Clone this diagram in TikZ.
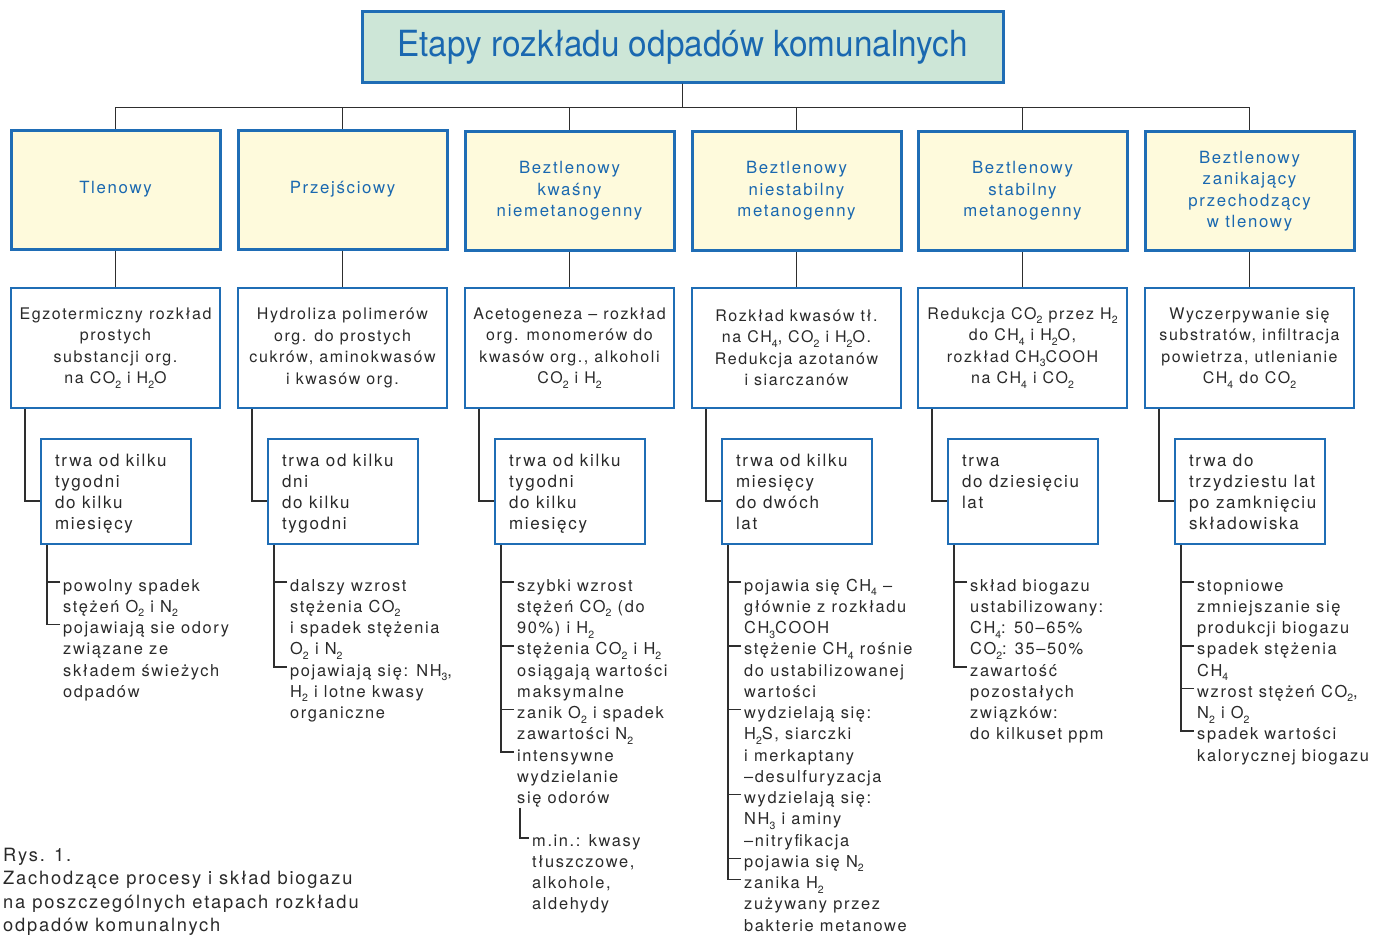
\documentclass[tikz,border=0pt]{standalone}
\usepackage{fontspec}
\setmainfont{TeX Gyre Heros}[LetterSpace=10.0]
\newfontfamily\titlefont{TeX Gyre Heros}[FakeStretch=0.925]
\usetikzlibrary{calc}
\definecolor{bblue}{HTML}{1F6DB5}
\definecolor{tblue}{HTML}{1A68B0}
\definecolor{tgreen}{HTML}{CDE6D7}
\definecolor{tyellow}{HTML}{FEFADC}
\definecolor{ink}{HTML}{2A2A2A}
\definecolor{lin}{HTML}{2E2E2E}
\newcommand\su[1]{\raisebox{-4.5pt}{\fontsize{10.5}{10.5}\selectfont #1}}
\newcommand\fs{\rule{0pt}{15pt}}
\newcommand\durtxt[1]{\parbox[c][105pt][t]{150pt}{\raggedright\leftskip=14pt\relax\rule{0pt}{27pt}#1}}
\begin{document}
\begin{tikzpicture}[x=1pt,y=-1pt,
 titlebox/.style={draw=bblue, line width=3pt, fill=tgreen, minimum width=641pt, minimum height=70pt, inner sep=0pt, text=tblue, font=\titlefont\fontsize{36}{40}\selectfont},
 phase/.style={draw=bblue, line width=3pt, fill=tyellow, minimum width=209pt, minimum height=119pt, inner sep=0pt, align=center, text=tblue, font=\fontsize{16.8}{21.5}\selectfont},
 proc/.style={draw=bblue, line width=1.6pt, fill=white, minimum width=209pt, minimum height=120pt, inner sep=0pt, align=center, text=ink, font=\fontsize{16}{21.5}\selectfont},
 dur/.style={draw=bblue, line width=1.6pt, fill=white, inner sep=0pt, text=ink, font=\fontsize{17}{21.25}\selectfont},
 item/.style={anchor=north west, inner xsep=3pt, inner ysep=0pt, align=left, text=ink, font=\fontsize{16.4}{21.25}\selectfont},
 conn/.style={draw=lin, line width=1.5pt},
]
\useasboundingbox (0,0) rectangle (1378,934);
\fill[white] (0,0) rectangle (1378,934);

% title
\node[titlebox] (title) at (682.5,47) {Etapy rozkładu odpadów komunalnych};

% phases
\node[phase] (p1) at (115.5,189.5) {Tlenowy};
\node[phase] (p2) at (342.5,189.5) {Przejściowy};
\node[phase] (p3) at (569.5,191) {Beztlenowy\\kwaśny\\niemetanogenny};
\node[phase] (p4) at (796.5,191) {Beztlenowy\\niestabilny\\metanogenny};
\node[phase] (p5) at (1022.5,191) {Beztlenowy\\stabilny\\metanogenny};
\node[phase] (p6) at (1249.5,191) {Beztlenowy\\zanikający\\przechodzący\\w tlenowy};

\foreach \i in {1,...,6} {
  \draw[conn] (title.south) -- ++(0,24) -| (p\i.north);
}

% processes
\node[proc] (s1) at (115.5,348) {Egzotermiczny rozkład\\prostych\\substancji org.\\na CO\su2 i H\su2O};
\node[proc] (s2) at (342.5,348) {Hydroliza polimerów\\org. do prostych\\cukrów, aminokwasów\\i kwasów org.};
\node[proc] (s3) at (569.5,348) {Acetogeneza – rozkład\\org. monomerów do\\kwasów org., alkoholi\\CO\su2 i H\su2};
\node[proc] (s4) at (796.5,348) {Rozkład kwasów tł.\\na CH\su4, CO\su2 i H\su2O.\\Redukcja azotanów\\i siarczanów};
\node[proc] (s5) at (1022.5,348) {Redukcja CO\su2 przez H\su2\\do CH\su4 i H\su2O,\\rozkład CH\su3COOH\\na CH\su4 i CO\su2};
\node[proc] (s6) at (1249.5,348) {Wyczerpywanie się\\substratów, infiltracja\\powietrza, utlenianie\\CH\su4 do CO\su2};

\foreach \i in {1,...,6} {
  \draw[conn] (p\i.south) -- (s\i.north);
}

% durations
\node[dur] (t1) at (116,491.5) {\durtxt{trwa od kilku\\tygodni\\do kilku\\miesięcy}};
\node[dur] (t2) at (343,491.5) {\durtxt{trwa od kilku\\dni\\do kilku\\tygodni}};
\node[dur] (t3) at (570,491.5) {\durtxt{trwa od kilku\\tygodni\\do kilku\\miesięcy}};
\node[dur] (t4) at (797,491.5) {\durtxt{trwa od kilku\\miesięcy\\do dwóch\\lat}};
\node[dur] (t5) at (1023,491.5) {\durtxt{trwa\\do dziesięciu\\lat}};
\node[dur] (t6) at (1250,491.5) {\durtxt{trwa do\\trzydziestu lat\\po zamknięciu\\składowiska}};

\foreach \i in {1,...,6} {
  \draw[conn] ([xshift=15pt]s\i.south west) |- ([yshift=-9.5pt]t\i.west);
}

% column 1
\node[item] (b1a) at (60,576) {\fs powolny spadek\\stężeń O\su2 i N\su2};
\node[item] (b1b) at (60,618.5) {\fs pojawiają sie odory\\związane ze\\składem świeżych\\odpadów};
\draw[conn] ([xshift=7pt]t1.south west) |- ([yshift=-6pt]b1b.north west);
\draw[conn] ([yshift=-6pt]b1a.north west) -- ++(-12,0);

% column 2
\node[item] (b2a) at (287,576) {\fs dalszy wzrost\\stężenia CO\su2\\i spadek stężenia\\O\su2 i N\su2};
\node[item] (b2b) at (287,661) {\fs pojawiają się: NH\su3,\\H\su2 i lotne kwasy\\organiczne};
\draw[conn] ([xshift=7pt]t2.south west) |- ([yshift=-6pt]b2b.north west);
\draw[conn] ([yshift=-6pt]b2a.north west) -- ++(-12,0);

% column 3
\node[item] (b3a) at (514,576) {\fs szybki wzrost\\stężeń CO\su2 (do\\90\%) i H\su2};
\node[item] (b3b) at (514,639.75) {\fs stężenia CO\su2 i H\su2\\osiągają wartości\\maksymalne};
\node[item] (b3c) at (514,703.5) {\fs zanik O\su2 i spadek\\zawartości N\su2};
\node[item] (b3d) at (514,746) {\fs intensywne\\wydzielanie\\się odorów};
\node[item] (b3s) at (529,831) {\fs m.in.: kwasy\\tłuszczowe,\\alkohole,\\aldehydy};
\draw[conn] ([xshift=7pt]t3.south west) |- ([yshift=-6pt]b3d.north west);
\foreach \n in {b3a,b3b,b3c} { \draw[conn] ([yshift=-6pt]\n.north west) -- ++(-12,0); }
\draw[conn] ([xshift=6pt]b3d.south west) |- ([yshift=-7pt]b3s.north west);

% column 4
\node[item] (b4a) at (741,576) {\fs pojawia się CH\su4 –\\głównie z rozkładu\\CH\su3COOH};
\node[item] (b4b) at (741,639.75) {\fs stężenie CH\su4 rośnie\\do ustabilizowanej\\wartości};
\node[item] (b4c) at (741,703.5) {\fs wydzielają się:\\H\su2S, siarczki\\i merkaptany\\–desulfuryzacja};
\node[item] (b4d) at (741,788.5) {\fs wydzielają się:\\NH\su3 i aminy\\–nitryfikacja};
\node[item] (b4e) at (741,852.25) {\fs pojawia się N\su2};
\node[item] (b4f) at (741,873.5) {\fs zanika H\su2\\zużywany przez\\bakterie metanowe};
\draw[conn] ([xshift=7pt]t4.south west) |- ([yshift=-6pt]b4f.north west);
\foreach \n in {b4a,b4b,b4c,b4d,b4e} { \draw[conn] ([yshift=-6pt]\n.north west) -- ++(-12,0); }

% column 5
\node[item] (b5a) at (967,576) {\fs skład biogazu\\ustabilizowany:\\CH\su4: 50–65\%\\CO\su2: 35–50\%};
\node[item] (b5b) at (967,661) {\fs zawartość\\pozostałych\\związków:\\do kilkuset ppm};
\draw[conn] ([xshift=7pt]t5.south west) |- ([yshift=-6pt]b5b.north west);
\draw[conn] ([yshift=-6pt]b5a.north west) -- ++(-12,0);

% column 6
\node[item] (b6a) at (1194,576) {\fs stopniowe\\zmniejszanie się\\produkcji biogazu};
\node[item] (b6b) at (1194,639.75) {\fs spadek stężenia\\CH\su4};
\node[item] (b6c) at (1194,682.25) {\fs wzrost stężeń CO\su2,\\N\su2 i O\su2};
\node[item] (b6d) at (1194,724.75) {\fs spadek wartości\\kalorycznej biogazu};
\draw[conn] ([xshift=7pt]t6.south west) |- ([yshift=-6pt]b6d.north west);
\foreach \n in {b6a,b6b,b6c} { \draw[conn] ([yshift=-6pt]\n.north west) -- ++(-12,0); }

% caption
\node[anchor=north west, inner sep=0pt, align=left, text=ink, font=\fontsize{18.3}{23.5}\selectfont] (cap) at (3,845)
 {\rule{0pt}{16pt}Rys. 1.\\Zachodzące procesy i skład biogazu\\na poszczególnych etapach rozkładu\\odpadów komunalnych};
\end{tikzpicture}
\end{document}
